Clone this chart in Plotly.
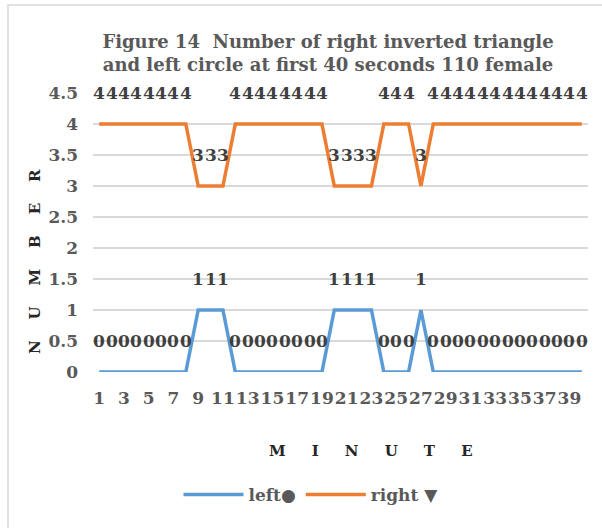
import plotly.graph_objects as go

minutes = list(range(1, 41))
left = [0]*8 + [1]*3 + [0]*8 + [1]*4 + [0]*3 + [1] + [0]*13
right = [4]*8 + [3]*3 + [4]*8 + [3]*4 + [4]*3 + [3] + [4]*13
y_ticks = [0, 0.5, 1, 1.5, 2, 2.5, 3, 3.5, 4, 4.5]
y_tick_labels = ["0", "0.5", "1", "1.5", "2", "2.5", "3", "3.5", "4", "4.5"]
x_ticks = list(range(1, 41, 2))

FONT = "DejaVu Serif"
GREY = "#595959"
BLUE = "#5b9bd5"
ORANGE = "#ed7d31"

fig = go.Figure()
fig.add_trace(go.Scatter(x=minutes, y=left, mode="lines", name="left\u25cf",
                         line=dict(color=BLUE, width=3.5)))
fig.add_trace(go.Scatter(x=minutes, y=right, mode="lines", name="right \u25bc",
                         line=dict(color=ORANGE, width=3.5)))

annotations = []
for series in (left, right):
    for xv, yv in zip(minutes, series):
        annotations.append(dict(x=xv, y=yv, xref="x", yref="y", text=str(yv),
                                showarrow=False, yshift=31,
                                font=dict(family=FONT, size=17, color="#404040", weight="bold")))

nb = "\u00a0"
annotations.append(dict(x=(24-93)/495, y=(372-262)/279, xref="paper", yref="paper",
                        text=(nb*4).join("NUMBER"), textangle=-90, showarrow=False,
                        font=dict(family=FONT, size=15, color="#262626", weight="bold")))
annotations.append(dict(x=(371-93)/495, y=(372-462)/279, xref="paper", yref="paper",
                        text=(nb*5).join("MINUTE"), showarrow=False,
                        font=dict(family=FONT, size=15, color="#262626", weight="bold")))

fig.update_layout(
    width=602, height=528,
    margin=dict(l=93, r=14, t=93, b=156),
    paper_bgcolor="white", plot_bgcolor="white",
    title=dict(text="Figure 14  Number of right inverted triangle<br>and left circle at first 40 seconds 110 female",
               x=328/602, xanchor="center", y=1-48/528, yanchor="middle",
               font=dict(family=FONT, size=18, color=GREY, weight="bold")),
    showlegend=True,
    legend=dict(orientation="h", x=(311-93)/495, xanchor="center", y=(372-495)/279, yanchor="middle",
                font=dict(family=FONT, size=17, color=GREY, weight="bold"), itemwidth=60),
    annotations=annotations,
    shapes=[dict(type="rect", xref="paper", yref="paper",
                 x0=(8-93)/495, x1=(640-93)/495, y0=(372-560)/279, y1=(372-5)/279,
                 line=dict(color="#d9d9d9", width=1.5), fillcolor="rgba(0,0,0,0)", layer="below")],
)
fig.update_xaxes(range=[0.5, 40.5], tickmode="array", tickvals=x_ticks,
                 ticktext=[str(v) for v in x_ticks], tickangle=0,
                 showgrid=False, zeroline=False, showline=False,
                 tickfont=dict(family=FONT, size=17, color=GREY, weight="bold"),
                 ticklabelstandoff=14)
fig.update_yaxes(range=[0, 4.5], tickmode="array", tickvals=y_ticks, ticktext=y_tick_labels,
                 showgrid=True, gridcolor="#d9d9d9", gridwidth=1.5, zeroline=False, showline=False,
                 tickfont=dict(family=FONT, size=17, color=GREY, weight="bold"),
                 ticklabelstandoff=14)

fig.write_html("out.html")
